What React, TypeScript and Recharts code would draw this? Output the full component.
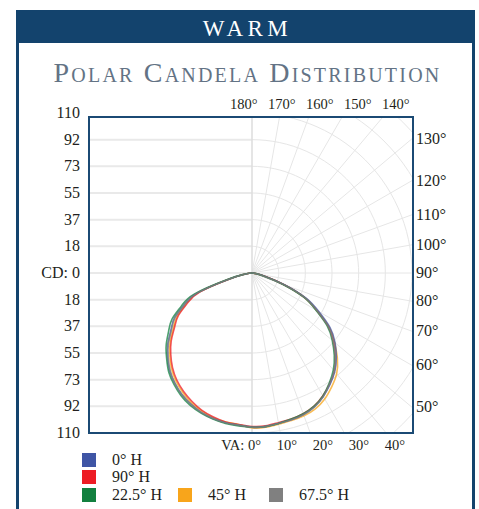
import { Line, LineChart, ReferenceLine, XAxis, YAxis } from "recharts";

// vertical angles (from nadir) at which candela was read
const ANGLES = [0, 5, 10, 15, 20, 25, 30, 35, 40, 45, 50, 55, 60, 65, 70, 75, 80, 85, 90];

// right half of the plot
const H0_RIGHT = [106, 106, 105, 104.5, 103.5, 101.5, 98, 93.5, 88.5, 82, 74.5, 65.5, 53, 41, 24, 10, 4, 1, 0];
const H90_RIGHT = [105.5, 105.5, 104.5, 104, 103, 101, 97.5, 93, 88, 81, 73, 64, 51.5, 40, 23.5, 10, 4, 1, 0];
const H22_RIGHT = [106, 106, 105, 104, 103, 101, 97.5, 92.5, 87, 80, 72, 63, 50.5, 39, 22, 9, 3.5, 1, 0];
const H45_RIGHT = [106.5, 106.5, 105.5, 105, 104.5, 103, 100, 95.5, 90.5, 83, 74, 64.5, 51.5, 40, 23, 9.5, 4, 1, 0];
const H67_RIGHT = [106, 106, 105, 104.5, 103.5, 101.5, 98, 93, 88, 81, 73, 64, 51.5, 40, 23, 9, 4, 1, 0];

// left half of the plot
const H0_LEFT = [105, 105, 104.5, 103.5, 102, 99.5, 96.5, 92.5, 88, 82, 75.5, 68, 61.5, 51.5, 40, 17, 6, 2, 0];
const H90_LEFT = [104.5, 104.5, 104, 102.5, 100.5, 97.5, 94, 90, 85, 79, 72.5, 65, 58.5, 49, 38, 16, 6, 2, 0];
const H22_LEFT = [105.5, 105.5, 105, 104, 102.5, 100.5, 97.5, 93.5, 89, 83, 77, 70, 63.5, 53.5, 42, 18, 6.5, 2, 0];
const H45_LEFT = [104.5, 104.5, 104, 103, 101, 98.5, 95, 91, 86, 80, 73.5, 66, 59.5, 50, 39, 16.5, 6, 2, 0];
const H67_LEFT = [105, 105, 104.5, 103.5, 102, 99.5, 96.5, 92.5, 87.5, 81.5, 75, 67.5, 61, 51, 40, 17, 6, 2, 0];

const SERIES = [
  { name: "0° H", color: "#3f55a5", right: H0_RIGHT, left: H0_LEFT },
  { name: "90° H", color: "#ed1c24", right: H90_RIGHT, left: H90_LEFT },
  { name: "22.5° H", color: "#12803f", right: H22_RIGHT, left: H22_LEFT },
  { name: "45° H", color: "#f8a51b", right: H45_RIGHT, left: H45_LEFT },
  { name: "67.5° H", color: "#808080", right: H67_RIGHT, left: H67_LEFT },
];
const DRAW_ORDER = ["45° H", "90° H", "0° H", "22.5° H", "67.5° H"];
const LEGEND_ROWS = [["0° H"], ["90° H"], ["22.5° H", "45° H", "67.5° H"]];

const CD_TICKS = [110, 91.67, 73.33, 55, 36.67, 18.33, 0, -18.33, -36.67, -55, -73.33, -91.67, -110];
const RING_RADII = [18.33, 36.67, 55, 73.33, 91.67, 110, 128.33, 146.67, 165, 183.33, 201.67, 220];
const SPOKE_ANGLES = [10, 20, 30, 40, 50, 60, 70, 80, 90, 100, 110, 120, 130, 140, 150, 160, 170];
const RIGHT_ANGLES = [130, 120, 110, 100, 90, 80, 70, 60, 50];
const TOP_LABELS = ["180°", "170°", "160°", "150°", "140°"];
const BOTTOM_LABELS = ["VA: 0°", "10°", "20°", "30°", "40°"];

// layout (page pixels)
const K = 160 / 110;
const CX = 252;
const CY = 273;
const PLOT = { left: 90, top: 118, right: 412, bottom: 432 };
const X_DOMAIN = [-(CX - PLOT.left) / K, (PLOT.right - CX) / K];
const Y_DOMAIN = [-(PLOT.bottom - CY) / K, (CY - PLOT.top) / K];
const LEGEND_ITEM_W = [96, 91, 110];

const NAVY = "#13436d";
const INK = "#231f20";
const FONT = "'Liberation Serif', 'Times New Roman', serif";

const rad = (d: number) => (d * Math.PI) / 180;

function polarCurve(left: number[], right: number[]) {
  const pts = [{ x: 0, y: 0 }];
  for (let i = ANGLES.length - 2; i >= 1; i--) {
    pts.push({ x: -left[i] * Math.sin(rad(ANGLES[i])), y: -left[i] * Math.cos(rad(ANGLES[i])) });
  }
  for (let i = 0; i < ANGLES.length - 1; i++) {
    pts.push({ x: right[i] * Math.sin(rad(ANGLES[i])), y: -right[i] * Math.cos(rad(ANGLES[i])) });
  }
  pts.push({ x: 0, y: 0 });
  return pts;
}

function ringArc(r: number) {
  const pts = [];
  for (let a = 0; a <= 180; a += 3) pts.push({ x: r * Math.sin(rad(a)), y: -r * Math.cos(rad(a)) });
  return pts;
}

function Label({ x, y, size, align = "left", children }: { x: number; y: number; size: number; align?: "left" | "right"; children: React.ReactNode }) {
  const style: React.CSSProperties = {
    position: "absolute",
    top: y - size / 2,
    lineHeight: `${size}px`,
    fontSize: size,
    fontFamily: FONT,
    color: INK,
    whiteSpace: "nowrap",
  };
  if (align === "right") style.right = 479 - x;
  else style.left = x;
  return <div style={style}>{children}</div>;
}

function PolarPlot() {
  const grid = "#e6e6e6";
  return (
    <LineChart
      width={PLOT.right - PLOT.left}
      height={PLOT.bottom - PLOT.top}
      margin={{ top: 0, right: 0, bottom: 0, left: 0 }}
    >
      <XAxis type="number" dataKey="x" domain={X_DOMAIN} allowDataOverflow hide />
      <YAxis type="number" dataKey="y" domain={Y_DOMAIN} allowDataOverflow hide />
      {CD_TICKS.map((v) => (
        <ReferenceLine
          key={`h${v}`}
          segment={[{ x: X_DOMAIN[0], y: v }, { x: 0, y: v }]}
          stroke="#e9e9e9"
          strokeWidth={2}
          ifOverflow="hidden"
        />
      ))}
      {RING_RADII.map((r) => (
        <Line
          key={`r${r}`}
          data={ringArc(r)}
          dataKey="y"
          type="linear"
          stroke={grid}
          strokeWidth={1}
          dot={false}
          activeDot={false}
          isAnimationActive={false}
        />
      ))}
      {SPOKE_ANGLES.map((a) => (
        <ReferenceLine
          key={`s${a}`}
          segment={[{ x: 0, y: 0 }, { x: 240 * Math.sin(rad(a)), y: -240 * Math.cos(rad(a)) }]}
          stroke={grid}
          strokeWidth={1}
          ifOverflow="hidden"
        />
      ))}
      <ReferenceLine x={0} stroke="#dcdcdc" strokeWidth={1.5} />
      {DRAW_ORDER.map((n) => {
        const s = SERIES.find((q) => q.name === n)!;
        return (
          <Line
            key={s.name}
            name={s.name}
            data={polarCurve(s.left, s.right)}
            dataKey="y"
            type="natural"
            stroke={s.color}
            strokeWidth={1.6}
            strokeOpacity={0.75}
            dot={false}
            activeDot={false}
            isAnimationActive={false}
          />
        );
      })}
    </LineChart>
  );
}

export default function App() {
  return (
    <div style={{ position: "absolute", left: 0, top: 0, width: 479, height: 509, background: "#fff", overflow: "hidden" }}>
      <div style={{ position: "absolute", left: 16, top: 10, width: 459, height: 33, background: NAVY }}>
        <div style={{ position: "absolute", left: 0, right: 0, top: 7, lineHeight: "23px", fontSize: 23, fontFamily: FONT, color: "#fff", textAlign: "center", letterSpacing: 4.5, paddingLeft: 4 }}>
          WARM
        </div>
      </div>
      <div style={{ position: "absolute", left: 16, top: 43, width: 459, height: 480, borderLeft: `3px solid ${NAVY}`, borderRight: `3px solid ${NAVY}`, boxSizing: "border-box" }} />
      <div style={{ position: "absolute", left: 16, width: 459, top: 59, lineHeight: "28px", fontSize: 28, fontFamily: FONT, fontVariant: "small-caps", color: "#637385", textAlign: "center", letterSpacing: 2.2, paddingLeft: 2 }}>
        Polar Candela Distribution
      </div>

      <div style={{ position: "absolute", left: PLOT.left - 2, top: PLOT.top - 2, width: PLOT.right - PLOT.left + 4, height: PLOT.bottom - PLOT.top + 4, border: "2px solid #1b4a74", boxSizing: "border-box" }} />
      <div style={{ position: "absolute", left: PLOT.left, top: PLOT.top }}>
        <PolarPlot />
      </div>

      {CD_TICKS.map((v) => (
        <Label key={v} x={80} y={CY - v * K} size={16} align="right">
          {v === 0 ? "CD: 0" : Math.round(Math.abs(v))}
        </Label>
      ))}
      {RIGHT_ANGLES.map((a) => (
        <Label key={a} x={416} y={CY + (PLOT.right - CX) / Math.tan(rad(a))} size={16}>
          {`${a}°`}
        </Label>
      ))}
      {TOP_LABELS.map((t, i) => (
        <Label key={t} x={230 + 38 * i} y={104} size={14.5}>
          {t}
        </Label>
      ))}
      {BOTTOM_LABELS.map((t, i) => (
        <Label key={t} x={405 - 36 * (4 - i)} y={445} size={14.5} align="right">
          {t}
        </Label>
      ))}

      <div style={{ position: "absolute", left: 82, top: 451, fontFamily: FONT, fontSize: 16, color: INK }}>
        {LEGEND_ROWS.map((row, ri) => (
          <div key={ri} style={{ display: "flex", height: 17.5, alignItems: "center" }}>
            {row.map((n, ci) => {
              const s = SERIES.find((q) => q.name === n)!;
              return (
                <div key={n} style={{ display: "flex", alignItems: "center", width: LEGEND_ITEM_W[ci] }}>
                  <span style={{ width: 14, height: 14, background: s.color, display: "inline-block", marginRight: 16, flex: "none" }} />
                  <span style={{ lineHeight: "16px", whiteSpace: "nowrap" }}>{s.name}</span>
                </div>
              );
            })}
          </div>
        ))}
      </div>
    </div>
  );
}
